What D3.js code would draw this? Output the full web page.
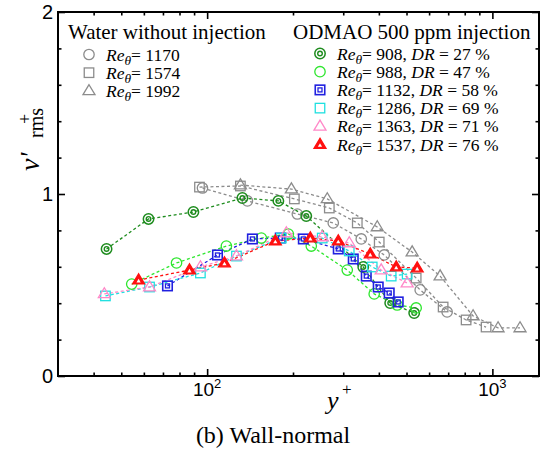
<!DOCTYPE html>
<html><head><meta charset="utf-8">
<script src="https://cdn.jsdelivr.net/npm/d3@7"></script>
</head><body style="margin:0;background:#fff"><svg id="c" width="544" height="455"></svg>
<script>
// ---- data (y+, v'+rms) ----
const water1170_x = [96.3,138.4,207.1,276.8,347.0,417.6,558.4,694.0];
const water1170_y = [1.033,0.962,0.890,0.841,0.753,0.665,0.473,0.352];
const water1574_x = [94.0,130.8,202.2,268.1,336.0,401.1,540.6,672.0,808.9,950.5];
const water1574_y = [1.038,1.044,0.973,0.923,0.841,0.736,0.538,0.379,0.308,0.269];
const water1992_x = [130.8,197.4,263.7,394.8,523.3,655.8,855.7,1047,1250];
const water1992_y = [1.049,1.027,0.973,0.819,0.681,0.549,0.330,0.264,0.264];
const od908_x = [44.4,62.3,89.5,132.9,177.7,222.6,352.6,438.3,532];
const od908_y = [0.698,0.863,0.901,0.978,0.962,0.879,0.599,0.401,0.346];
const od988_x = [54.4,78.1,116.8,154.9,192.6,231.8,309.9,385.2,463.8,540.5];
const od988_y = [0.505,0.621,0.714,0.758,0.780,0.714,0.582,0.451,0.390,0.374];
const od1132_x = [72.6,108.7,144.1,180.5,217.4,288.2,325.3,361.3,397.9,434.8,467.6];
const od1132_y = [0.495,0.665,0.753,0.758,0.753,0.698,0.643,0.549,0.489,0.456,0.407];
const od1286_x = [44.0,62.8,94.7,126.7,182.0,253.2,314.9,379.1,441.8,502.6];
const od1286_y = [0.440,0.489,0.566,0.659,0.758,0.758,0.687,0.599,0.549,0.560];
const od1363_x = [43.6,62.8,94.7,126.7,189.5,253.2,314.9,407.6,502.6];
const od1363_y = [0.451,0.489,0.599,0.659,0.786,0.764,0.731,0.582,0.511];
const od1537_x = [57.5,86.7,115.0,173.4,230.0,288.2,373.1,460.1,545];
const od1537_y = [0.527,0.582,0.621,0.742,0.758,0.742,0.670,0.599,0.593];

const waterLabels = ["1170","1574","1992"];
const odLabels = [["908","27"],["988","47"],["1132","58"],["1286","69"],["1363","71"],["1537","76"]];
const xMajor = [100,1000];
const xMinor = [40,50,60,70,80,90,200,300,400,500,600,700,800,900];
const yMajor = [0,1,2];
const yMinor = [0.2,0.4,0.6,0.8,1.2,1.4,1.6,1.8];

const series = [
  {x:water1170_x,y:water1170_y,color:"#8c8c8c",m:"circle"},
  {x:water1574_x,y:water1574_y,color:"#8c8c8c",m:"square"},
  {x:water1992_x,y:water1992_y,color:"#8c8c8c",m:"triangle"},
  {x:od908_x,y:od908_y,color:"#1e8c1e",m:"dcircle"},
  {x:od988_x,y:od988_y,color:"#2ee62e",m:"circle"},
  {x:od1132_x,y:od1132_y,color:"#2020e0",m:"dsquare"},
  {x:od1286_x,y:od1286_y,color:"#20e0e0",m:"square"},
  {x:od1363_x,y:od1363_y,color:"#ff88c8",m:"triangle"},
  {x:od1537_x,y:od1537_y,color:"#ff1010",m:"ftriangle"}
];

const svg = d3.select("#c");
const L=58,R=539,T=12,B=376;
const x = d3.scaleLog().domain([30,1457]).range([L,R]);
const y = d3.scaleLinear().domain([0,2]).range([B,T]);
const SERIF = '"Liberation Serif"';
const SANS = '"Liberation Sans"';
function txt(parent, fam){ return parent.append("text").attr("font-family", fam==='"Liberation Serif"'?"serif":"sans-serif").style("font-family", fam); }

function marker(g, m, cx, cy, color){
  const sw=1.3;
  if(m==="circle"||m==="dcircle"){
    g.append("circle").attr("cx",cx).attr("cy",cy).attr("r",5.2).attr("fill","none").attr("stroke",color).attr("stroke-width",m==="dcircle"?1.5:sw);
    if(m==="dcircle") g.append("circle").attr("cx",cx).attr("cy",cy).attr("r",2.3).attr("fill","none").attr("stroke",color).attr("stroke-width",1.4);
  } else if(m==="square"||m==="dsquare"){
    const s=9.5;
    g.append("rect").attr("x",cx-s/2).attr("y",cy-s/2).attr("width",s).attr("height",s).attr("fill","none").attr("stroke",color).attr("stroke-width",m==="dsquare"?1.6:sw);
    if(m==="dsquare") g.append("rect").attr("x",cx-2).attr("y",cy-2).attr("width",4).attr("height",4).attr("fill","none").attr("stroke",color).attr("stroke-width",1.3);
  } else {
    const h=10, w=12;
    const pts=[[cx,cy-h*0.62],[cx-w/2,cy+h*0.38],[cx+w/2,cy+h*0.38]];
    g.append("polygon").attr("points",pts.map(p=>p.join(",")).join(" "))
      .attr("fill",m==="ftriangle"?color:"none").attr("stroke",color).attr("stroke-width",sw);
    if(m==="ftriangle"){
      const hi=3.6, wi=4.2, c2=cy+1;
      const p2=[[cx,c2-hi*0.62],[cx-wi/2,c2+hi*0.38],[cx+wi/2,c2+hi*0.38]];
      g.append("polygon").attr("points",p2.map(p=>p.join(",")).join(" ")).attr("fill","#fff").attr("stroke","none");
    }
  }
}

// lines
const line = d3.line().x(d=>x(d[0])).y(d=>y(d[1]));
series.forEach(s=>{
  const pts = s.x.map((v,i)=>[v,s.y[i]]);
  svg.append("path").attr("d",line(pts)).attr("fill","none").attr("stroke",s.color)
    .attr("stroke-width",1.3).attr("stroke-dasharray","3,2.5");
});
series.forEach(s=>{
  const g=svg.append("g");
  s.x.forEach((v,i)=>marker(g,s.m,x(v),y(s.y[i]),s.color));
});

// axes / ticks
function ticks(axisFn, scale, vals, size, tr){
  const a = axisFn(scale).tickValues(vals).tickSize(size).tickFormat("");
  const g = svg.append("g").attr("transform",tr).call(a);
  g.select(".domain").remove();
  g.selectAll("line").attr("stroke","#000").attr("stroke-width",1.6);
}
ticks(d3.axisBottom,x,xMajor,-7,`translate(0,${B})`);
ticks(d3.axisBottom,x,xMinor,-3.5,`translate(0,${B})`);
ticks(d3.axisTop,x,xMajor,-7,`translate(0,${T})`);
ticks(d3.axisTop,x,xMinor,-3.5,`translate(0,${T})`);
ticks(d3.axisLeft,y,yMajor,-7,`translate(${L},0)`);
ticks(d3.axisLeft,y,yMinor,-3.5,`translate(${L},0)`);
ticks(d3.axisRight,y,yMajor,-7,`translate(${R},0)`);
ticks(d3.axisRight,y,yMinor,-3.5,`translate(${R},0)`);
svg.append("rect").attr("x",L).attr("y",T).attr("width",R-L).attr("height",B-T)
  .attr("fill","none").attr("stroke","#000").attr("stroke-width",2);

// tick labels
yMajor.forEach(v=>{
  txt(svg,SANS).attr("x",L-5).attr("y",y(v)+7).attr("text-anchor","end")
    .attr("font-size",20).text(v);
});
xMajor.forEach(v=>{
  const t=txt(svg,SANS).attr("x",x(v)).attr("y",396).attr("text-anchor","middle")
    .attr("font-size",19);
  t.append("tspan").text("10");
  t.append("tspan").attr("dy",-8).attr("font-size",13).text(Math.round(Math.log10(v)));
});

// axis labels
txt(svg,SERIF).attr("x",327).attr("y",409).attr("font-size",26)
  .attr("font-style","italic").text("y");
txt(svg,SERIF).attr("x",342).attr("y",395).attr("font-size",17).text("+");

const yl=svg.append("g").attr("transform","rotate(-90)");
txt(yl,SERIF).attr("x",-171).attr("y",39).attr("font-size",28)
  .attr("font-style","italic").text("v'");
txt(yl,SERIF).attr("x",-124).attr("y",31).attr("font-size",18).text("+");
txt(yl,SERIF).attr("x",-138).attr("y",43).attr("font-size",20).text("rms");

txt(svg,SERIF).attr("x",273).attr("y",443).attr("text-anchor","middle")
  .attr("font-size",24).text("(b) Wall-normal");

// legends
txt(svg,SERIF).attr("x",68).attr("y",38.5).attr("font-size",21).text("Water without injection");
txt(svg,SERIF).attr("x",293).attr("y",38.5).attr("font-size",21).text("ODMAO 500 ppm injection");

function reLabel(xp, yp, re, dr){
  const t=txt(svg,SERIF).attr("x",xp).attr("y",yp).attr("font-size",17.5);
  t.append("tspan").attr("font-style","italic").text("Re");
  t.append("tspan").attr("font-style","italic").attr("font-size",13.5).attr("dy",4).text("θ");
  t.append("tspan").attr("dy",-4).text("= "+re);
  if(dr){
    t.append("tspan").text(", ");
    t.append("tspan").attr("font-style","italic").text("DR");
    t.append("tspan").text(" = "+dr+" %");
  }
}
waterLabels.forEach((lab,i)=>{
  const yy=54.5+i*18.2;
  marker(svg, series[i].m, 89, yy, series[i].color);
  reLabel(106, yy+6, lab, null);
});
odLabels.forEach((lab,i)=>{
  const yy=53.5+i*18.2;
  const s=series[3+i];
  marker(svg, s.m, 320, yy, s.color);
  reLabel(337, yy+6, lab[0], lab[1]);
});
</script></body></html>
